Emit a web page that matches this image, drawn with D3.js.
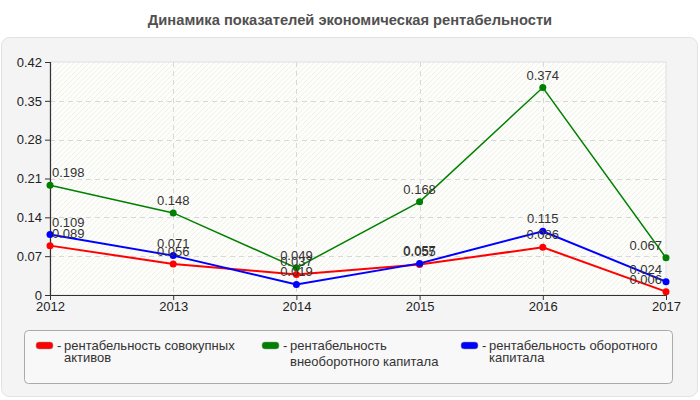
<!DOCTYPE html>
<html>
<head>
<meta charset="utf-8">
<script src="https://cdn.jsdelivr.net/npm/d3@7"></script>
<style>
  body { margin: 0; background: #fff; font-family: "Liberation Sans", Arial, sans-serif; }
  svg text { font-family: "Liberation Sans", Arial, sans-serif; }
</style>
</head>
<body>
<script>
const years = [2012, 2013, 2014, 2015, 2016, 2017];
const yTicks = [0, 0.07, 0.14, 0.21, 0.28, 0.35, 0.42];
const totalAssets = [0.089, 0.056, 0.037, 0.055, 0.086, 0.006];
const fixedCapital = [0.198, 0.148, 0.049, 0.168, 0.374, 0.067];
const workingCapital = [0.109, 0.071, 0.019, 0.057, 0.115, 0.024];
const seriesNames = [
  ["рентабельность совокупных", "активов"],
  ["рентабельность", "внеоборотного капитала"],
  ["рентабельность оборотного", "капитала"]
];
const colors = ["#ff0000", "#008000", "#0000ff"];

const W = 700, H = 400;
const margin = {top: 62, right: 34, bottom: 105, left: 50};
const width = W - margin.left - margin.right,
      height = H - margin.top - margin.bottom;

const svg = d3.select("body").append("svg")
  .attr("width", W).attr("height", H);

// hatch pattern for plot background
const defs = svg.append("defs");
const pat = defs.append("pattern")
  .attr("id", "hatch").attr("patternUnits", "userSpaceOnUse")
  .attr("width", 5).attr("height", 5);
pat.append("rect").attr("width", 5).attr("height", 5).attr("fill", "#fdfdf9");
pat.append("path").attr("d", "M0,5 L5,0 M-1,1 L1,-1 M4,6 L6,4")
  .attr("stroke", "#ececec").attr("stroke-width", 0.8);

// title
svg.append("text")
  .attr("x", W / 2).attr("y", 25)
  .attr("text-anchor", "middle")
  .style("font-size", "14.7px").style("font-weight", "bold").style("fill", "#505050")
  .text("Динамика показателей экономическая рентабельности");

// outer panel
svg.append("rect")
  .attr("x", 1.5).attr("y", 37.5).attr("width", 696).attr("height", 359)
  .attr("rx", 8).attr("fill", "#f4f4f4").attr("stroke", "#e2e2e2");

const g = svg.append("g")
  .attr("transform", "translate(" + margin.left + "," + margin.top + ")");

const x = d3.scalePoint().domain(years).range([0, width]);
const y = d3.scaleLinear().domain([0, 0.42]).range([height, 0]);

g.append("rect")
  .attr("width", width).attr("height", height)
  .attr("fill", "url(#hatch)")
  .attr("stroke", "#e0e0e0");

// grid
g.selectAll(".hgrid").data(yTicks.slice(1, -1)).enter().append("line")
  .attr("x1", 0).attr("x2", width)
  .attr("y1", d => Math.round(y(d)) + 0.5).attr("y2", d => Math.round(y(d)) + 0.5)
  .attr("stroke", "#d8d8d8").attr("stroke-dasharray", "5,4");
g.selectAll(".vgrid").data(years.slice(1, -1)).enter().append("line")
  .attr("y1", 0).attr("y2", height)
  .attr("x1", d => Math.round(x(d)) + 0.5).attr("x2", d => Math.round(x(d)) + 0.5)
  .attr("stroke", "#d8d8d8").attr("stroke-dasharray", "5,4");

// axes
const yAxis = g.append("g")
  .call(d3.axisLeft(y).tickValues(yTicks).tickFormat(d => d === 0 ? "0" : d3.format(".2f")(d)).tickSize(5).tickPadding(3));
const xAxis = g.append("g")
  .attr("transform", "translate(0," + height + ")")
  .call(d3.axisBottom(x).tickSize(5).tickPadding(2));
[yAxis, xAxis].forEach(a => {
  a.select(".domain").attr("stroke", "#333").attr("stroke-width", 1.2);
  a.selectAll(".tick line").attr("stroke", "#333");
  a.selectAll(".tick text").style("font-size", "13px").style("fill", "#222");
});
xAxis.select(".domain").attr("d", "M0,0.5H" + width);
yAxis.select(".domain").attr("d", "M0.5,0V" + (height + 0.5));

// series
const allSeries = [totalAssets, fixedCapital, workingCapital];
const line = d3.line().x((d, i) => x(years[i])).y(d => y(d));
const order = [1, 0, 2];
order.forEach(s => {
  g.append("path").datum(allSeries[s])
    .attr("d", line).attr("fill", "none")
    .attr("stroke", colors[s]).attr("stroke-width", s === 1 ? 1.5 : 2);
  g.selectAll(".pt" + s).data(allSeries[s]).enter().append("circle")
    .attr("cx", (d, i) => x(years[i])).attr("cy", d => y(d))
    .attr("r", 3.5).attr("fill", colors[s]);
});
order.forEach(s => {
  g.selectAll(".lbl" + s).data(allSeries[s]).enter().append("text")
    .style("font-size", "13px").style("fill", "#333")
    .text(d => d3.format(".3f")(d))
    .each(function(d, i) {
      const w = this.getComputedTextLength();
      let lx = x(years[i]) - w / 2;
      lx = Math.max(2, Math.min(width - 4 - w, lx));
      d3.select(this).attr("x", lx).attr("y", y(d) - 8);
    });
});

// legend
svg.append("rect")
  .attr("x", 24.5).attr("y", 330.5).attr("width", 648).attr("height", 53)
  .attr("rx", 4).attr("fill", "#f8f8f8").attr("stroke", "#aaaaaa");
const legX = [36, 262, 461];
const secondY = [362, 366, 362];
seriesNames.forEach((lines, i) => {
  const lg = svg.append("g");
  lg.append("rect")
    .attr("x", legX[i]).attr("y", 342).attr("width", 17).attr("height", 7)
    .attr("rx", 3).attr("fill", colors[i]).attr("stroke", "#999").attr("stroke-width", 0.5);
  lg.append("text").attr("x", legX[i] + 21).attr("y", 350)
    .style("font-size", "13px").style("fill", "#333").text("-");
  lg.append("text").attr("x", legX[i] + 28).attr("y", 350)
    .style("font-size", "13px").style("fill", "#333").text(lines[0]);
  lg.append("text").attr("x", legX[i] + 28).attr("y", secondY[i])
    .style("font-size", "13px").style("fill", "#333").text(lines[1]);
});
</script>
</body>
</html>
